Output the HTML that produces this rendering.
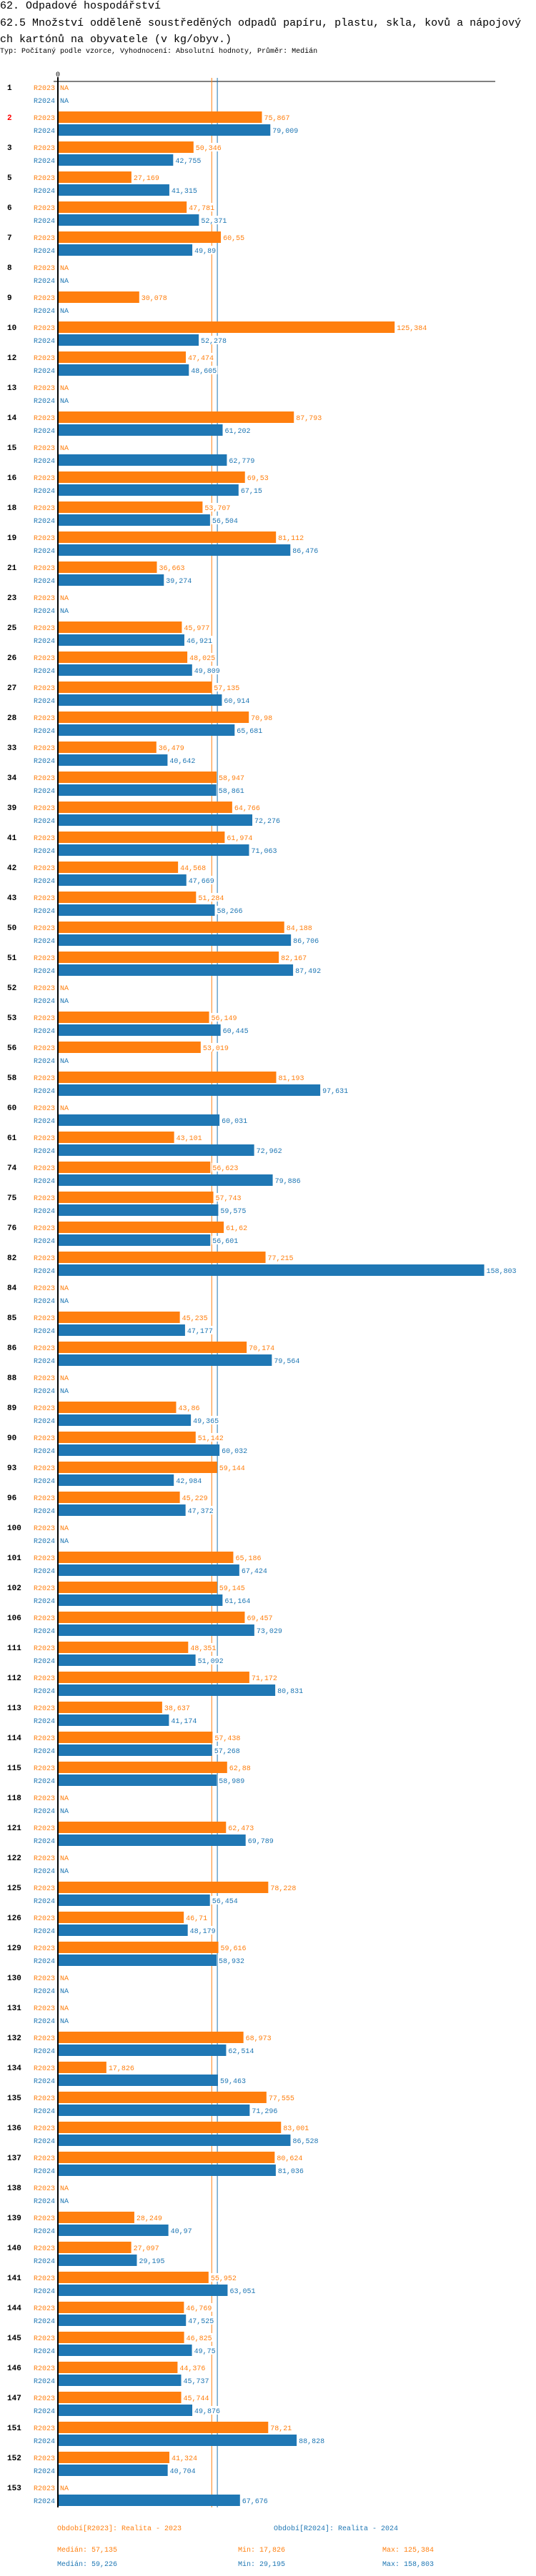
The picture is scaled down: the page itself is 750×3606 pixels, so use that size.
<!DOCTYPE html>
<html><head><meta charset="utf-8">
<style>
body{margin:0;background:#fff;width:750px;height:3606px;overflow:hidden;font-family:"Liberation Mono",monospace;}
.h{position:absolute;left:0;font-size:15px;color:#000;white-space:nowrap;}
</style></head>
<body>
<div class="h" style="top:0px">62. Odpadové hospodářství</div>
<div class="h" style="top:21px;line-height:23px;">62.5 Množství odděleně soustředěných odpadů papíru, plastu, skla, kovů a nápojový<br>ch kartónů na obyvatele (v kg/obyv.)</div>
<div class="h" style="top:67px;font-size:10px">Typ: Počítaný podle vzorce, Vyhodnocení: Absolutní hodnoty, Průměr: Medián</div>
<svg id="chart" width="750" height="3606" style="position:absolute;left:0;top:0" font-family="Liberation Mono, monospace"></svg>
<script>
const categories=[1,2,3,5,6,7,8,9,10,12,13,14,15,16,18,19,21,23,25,26,27,28,33,34,39,41,42,43,50,51,52,53,56,58,60,61,74,75,76,82,84,85,86,88,89,90,93,96,100,101,102,106,111,112,113,114,115,118,121,122,125,126,129,130,131,132,134,135,136,137,138,139,140,141,144,145,146,147,151,152,153];
const r2023=[null,75.867,50.346,27.169,47.781,60.55,null,30.078,125.384,47.474,null,87.793,null,69.53,53.707,81.112,36.663,null,45.977,48.025,57.135,70.98,36.479,58.947,64.766,61.974,44.568,51.284,84.188,82.167,null,56.149,53.019,81.193,null,43.101,56.623,57.743,61.62,77.215,null,45.235,70.174,null,43.86,51.142,59.144,45.229,null,65.186,59.145,69.457,48.351,71.172,38.637,57.438,62.88,null,62.473,null,78.228,46.71,59.616,null,null,68.973,17.826,77.555,83.001,80.624,null,28.249,27.097,55.952,46.769,46.825,44.376,45.744,78.21,41.324,null];
const r2024=[null,79.009,42.755,41.315,52.371,49.89,null,null,52.278,48.605,null,61.202,62.779,67.15,56.504,86.476,39.274,null,46.921,49.809,60.914,65.681,40.642,58.861,72.276,71.063,47.669,58.266,86.706,87.492,null,60.445,null,97.631,60.031,72.962,79.886,59.575,56.601,158.803,null,47.177,79.564,null,49.365,60.032,42.984,47.372,null,67.424,61.164,73.029,51.092,80.831,41.174,57.268,58.989,null,69.789,null,56.454,48.179,58.932,null,null,62.514,59.463,71.296,86.528,81.036,null,40.97,29.195,63.051,47.525,49.75,45.737,49.876,88.828,40.704,67.676];
const medians=[57.135,59.226];
const seriesNames=["R2023","R2024"];
const highlighted=[2];

const NS="http://www.w3.org/2000/svg";
const svg=document.getElementById('chart');
const colors=["#ff7f0e","#1f77b4"];
const X0=82,K=3.75,TOP=114,PITCH=42;
const xs=v=>X0+v*K;
const gy=i=>TOP+i*PITCH;
function mk(tag,attrs,txt){const e=document.createElementNS(NS,tag);for(const k in attrs)e.setAttribute(k,attrs[k]);if(txt!==undefined)e.textContent=txt;svg.appendChild(e);return e;}
const fmt=v=>String(v).replace('.',',');
const bottom=gy(categories.length)-6;

let e=mk('line',{x1:75,y1:TOP,x2:693,y2:TOP,stroke:'#000','stroke-width':1});


e=mk('text',{x:81,y:107,'font-size':10,'text-anchor':'middle',fill:'#000'},'0');



medians.forEach((m,s)=>{
  const l=mk('line',{x1:xs(m),y1:109,x2:xs(m),y2:bottom,stroke:colors[s],'stroke-width':1});
  
  
});

categories.forEach((c,i)=>{
  const y=gy(i);
  const t=mk('text',{x:10,y:y+12,'font-size':11,'font-weight':'bold',fill:highlighted.includes(c)?'#ff0000':'#000'},String(c));
  
  
  [r2023,r2024].forEach((arr,s)=>{
    const by=y+s*18;
    const lab=mk('text',{x:77,y:by+12,'font-size':10,'text-anchor':'end',fill:colors[s]},seriesNames[s]);
    
    
    const v=arr[i];
    if(v===null){
      const na=mk('text',{x:84,y:by+12,'font-size':10,fill:colors[s]},'NA');
      
      
    }else{
      const w=xs(v)-X0;
      const r=mk('rect',{x:X0,y:by,width:w,height:16,fill:colors[s]});
      
      
      const str=fmt(v);
      const bg=mk('rect',{x:xs(v)+2,y:by+2,width:str.length*6+2,height:12,fill:'#fff'});
      
      
      const vt=mk('text',{x:xs(v)+3,y:by+12,'font-size':10,fill:colors[s]},str);
      
      
    }
  });
});

e=mk('line',{x1:81,y1:108,x2:81,y2:bottom,stroke:'#000','stroke-width':2});



const legendY=3542;
e=mk('text',{x:80,y:legendY,'font-size':10,fill:colors[0]},'Období[R2023]: Realita - 2023');


e=mk('text',{x:383,y:legendY,'font-size':10,fill:colors[1]},'Období[R2024]: Realita - 2024');



[r2023,r2024].forEach((arr,s)=>{
  const vals=arr.filter(v=>v!==null);
  const y=3572+s*20;
  const items=[['Medián: '+fmt(medians[s]),80],['Min: '+fmt(Math.min(...vals)),333],['Max: '+fmt(Math.max(...vals)),535]];
  items.forEach(([t,x])=>{
    const st=mk('text',{x:x,y:y,'font-size':10,fill:colors[s]},t);
    
    
  });
});
</script>
</body></html>
